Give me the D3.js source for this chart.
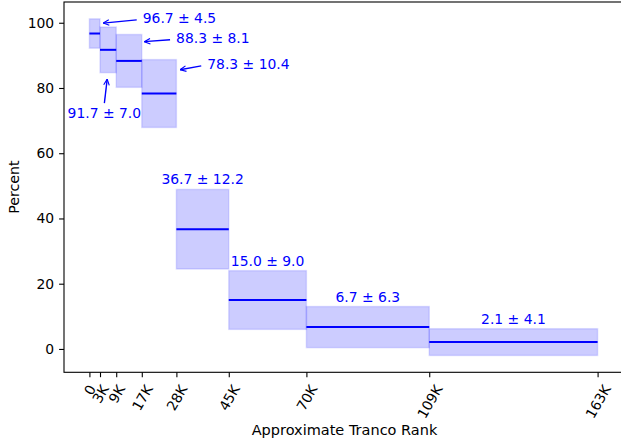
<!DOCTYPE html>
<html>
<head>
<meta charset="utf-8">
<script src="https://cdn.jsdelivr.net/npm/d3@7"></script>
<style>
  body { margin: 0; background: #fff; }
  svg { font-family: "DejaVu Sans", sans-serif; }
</style>
</head>
<body>
<div id="chart"></div>
<script>
var width = 621,
    height = 442;

// bin edges in thousands of ranks, with the rounded tick labels
var binEdges = [0, 3.4, 8.6, 16.8, 27.9, 44.7, 69.6, 109, 163];
var tickLabels = ["0", "3K", "9K", "17K", "28K", "45K", "70K", "109K", "163K"];
var means = [96.7, 91.7, 88.3, 78.3, 36.7, 15.0, 6.7, 2.1];
var errs = [4.5, 7.0, 8.1, 10.4, 12.2, 9.0, 6.3, 4.1];
var yTicks = [0, 20, 40, 60, 80, 100];

// the first four bins get arrow callouts: [bin, target x, target y, text x, text y, side]
var callouts = [
    [0, 4.4, 99.9, 17.1, 101.5, "right"],
    [1, 5.7, 82.7, 4.8, 72.3, "below"],
    [2, 17.6, 94.2, 27.8, 95.4, "right"],
    [3, 29.1, 85.6, 37.8, 87.4, "right"]
];

var bins = means.map(function (m, i) {
    return { i: i, x0: binEdges[i], x1: binEdges[i + 1], mean: m, err: errs[i] };
});

var fmt = d3.format(".1f");
function label(d) { return fmt(d.mean) + " \u00b1 " + fmt(d.err); }

var x = d3.scaleLinear().domain([-8.15, 171.15]).range([64, 623]);
var y = d3.scaleLinear().domain([-7.16, 106.36]).range([372.3, 2]);

var svg = d3.select("#chart").append("svg")
    .attr("width", width)
    .attr("height", height);

svg.append("defs").append("marker")
    .attr("id", "head")
    .attr("viewBox", "0 0 10 10")
    .attr("refX", 9.5).attr("refY", 5)
    .attr("markerWidth", 7).attr("markerHeight", 7)
    .attr("markerUnits", "userSpaceOnUse")
    .attr("orient", "auto")
    .append("path")
    .attr("d", "M1,1 L9.5,5 L1,9")
    .attr("fill", "none")
    .attr("stroke", "blue")
    .attr("stroke-width", 1.6);

var g = svg.append("g");

// error boxes
g.selectAll("rect.box")
    .data(bins)
    .enter().append("rect")
    .attr("class", "box")
    .attr("x", function (d) { return x(d.x0); })
    .attr("width", function (d) { return x(d.x1) - x(d.x0); })
    .attr("y", function (d) { return y(d.mean + d.err); })
    .attr("height", function (d) { return y(d.mean - d.err) - y(d.mean + d.err); })
    .attr("fill", "rgba(0,0,255,0.2)")
    .attr("stroke", "rgba(0,0,255,0.12)")
    .attr("stroke-width", 1.5);

// mean lines
g.selectAll("line.mean")
    .data(bins)
    .enter().append("line")
    .attr("class", "mean")
    .attr("x1", function (d) { return x(d.x0); })
    .attr("x2", function (d) { return x(d.x1); })
    .attr("y1", function (d) { return y(d.mean); })
    .attr("y2", function (d) { return y(d.mean); })
    .attr("stroke", "blue")
    .attr("stroke-width", 2);

// plain labels above the wider bins
g.selectAll("text.top")
    .data(bins.slice(4))
    .enter().append("text")
    .attr("class", "top")
    .attr("x", function (d) { return (x(d.x0) + x(d.x1)) / 2; })
    .attr("y", function (d) { return y(d.mean + d.err) - 5; })
    .attr("text-anchor", "middle")
    .attr("font-size", "13.9px")
    .attr("fill", "blue")
    .text(label);

// callouts with arrows
callouts.forEach(function (c) {
    var d = bins[c[0]];
    var tx = x(c[3]), ty = y(c[4]);
    var hx = x(c[1]), hy = y(c[2]);
    g.append("text")
        .attr("x", tx)
        .attr("y", ty)
        .attr("dy", "0.35em")
        .attr("font-size", "13.9px")
        .attr("fill", "blue")
        .attr("text-anchor", c[5] === "below" ? "middle" : "start")
        .text(label(d));
    var sx, sy;
    if (c[5] === "below") {
        sx = tx; sy = ty - 10;
    } else {
        sx = tx - 6; sy = ty + 2;
    }
    g.append("line")
        .attr("x1", sx).attr("y1", sy)
        .attr("x2", hx).attr("y2", hy)
        .attr("stroke", "blue")
        .attr("stroke-width", 1.4)
        .attr("marker-end", "url(#head)");
});

// axes
var xAxis = svg.append("g")
    .attr("transform", "translate(0," + y.range()[0] + ")")
    .call(d3.axisBottom(x).tickValues(binEdges).tickSize(4.9).tickSizeOuter(0)
        .tickFormat(function (d, i) { return tickLabels[i]; }));
xAxis.select(".domain").remove();
xAxis.selectAll(".tick line").attr("stroke", "#000").attr("stroke-width", 1.1);
xAxis.selectAll(".tick text")
    .attr("font-size", "13.9px")
    .attr("font-family", "DejaVu Sans")
    .attr("fill", "#000")
    .attr("text-anchor", "middle")
    .attr("dy", null)
    .attr("dominant-baseline", "central")
    .each(function () {
        var w = this.getComputedTextLength();
        var h = 16;
        var bh = w * Math.sin(Math.PI / 3) + h * Math.cos(Math.PI / 3);
        var cy = 9.8 + bh / 2;
        d3.select(this).attr("y", 0)
            .attr("transform", "translate(0," + cy + ") rotate(-60)");
    });

var yAxis = svg.append("g")
    .attr("transform", "translate(" + x.range()[0] + ",0)")
    .call(d3.axisLeft(y).tickValues(yTicks).tickSize(4.9).tickSizeOuter(0).tickPadding(4.9));
yAxis.select(".domain").remove();
yAxis.selectAll(".tick line").attr("stroke", "#000").attr("stroke-width", 1.1);
yAxis.selectAll(".tick text")
    .attr("font-size", "13.9px")
    .attr("font-family", "DejaVu Sans")
    .attr("fill", "#000");

// frame (right side falls outside the picture)
svg.append("rect")
    .attr("x", x.range()[0])
    .attr("y", y.range()[1])
    .attr("width", x.range()[1] - x.range()[0])
    .attr("height", y.range()[0] - y.range()[1])
    .attr("fill", "none")
    .attr("stroke", "#000")
    .attr("stroke-width", 1.1);

svg.append("text")
    .attr("transform", "translate(19," + (y.range()[0] + y.range()[1]) / 2 + ") rotate(-90)")
    .attr("text-anchor", "middle")
    .attr("font-size", "14.2px")
    .attr("fill", "#000")
    .text("Percent");

svg.append("text")
    .attr("x", 344.5)
    .attr("y", 435)
    .attr("text-anchor", "middle")
    .attr("font-size", "14.5px")
    .attr("fill", "#000")
    .text("Approximate Tranco Rank");
</script>
</body>
</html>
